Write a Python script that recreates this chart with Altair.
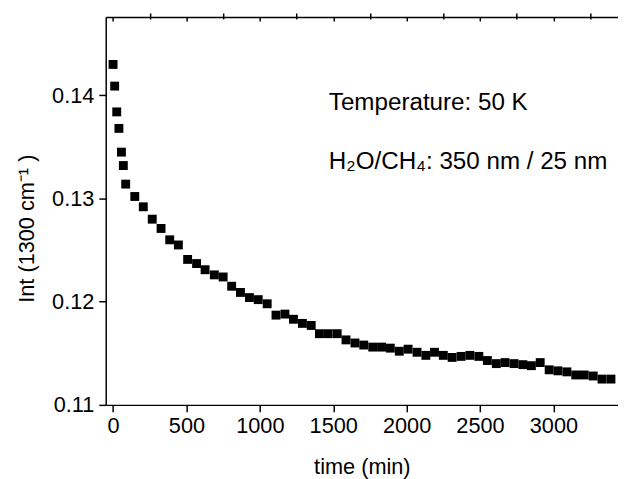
import altair as alt
import pandas as pd

time_min = [0, 11, 25, 40, 57, 70, 86, 148, 206, 267, 327, 386, 445, 508, 569, 627, 690, 750, 808, 868,
            929, 989, 1050, 1110, 1171, 1229, 1290, 1350, 1406, 1466, 1527, 1587, 1648, 1708, 1769, 1829,
            1889, 1950, 2010, 2071, 2131, 2190, 2250, 2310, 2371, 2431, 2492, 2550, 2611, 2671, 2732, 2792,
            2850, 2910, 2971, 3031, 3092, 3152, 3210, 3271, 3331, 3392]
intensity = [0.1430, 0.1409, 0.1384, 0.1368, 0.1345, 0.1332, 0.1314, 0.1302, 0.1292, 0.1280,
             0.1271, 0.1260, 0.1255, 0.1241, 0.1237, 0.1231, 0.1226, 0.1224, 0.1215, 0.1209,
             0.1204, 0.1202, 0.1198, 0.1187, 0.1188, 0.1183, 0.1179, 0.1177, 0.1169, 0.1169,
             0.1169, 0.1163, 0.1160, 0.1158, 0.1156, 0.1156, 0.1155, 0.1152, 0.1154, 0.1151,
             0.1148, 0.1151, 0.1148, 0.1146, 0.1147, 0.1148, 0.1147, 0.1143, 0.1140, 0.1141,
             0.1140, 0.1139, 0.1138, 0.1141, 0.1134, 0.1133, 0.1132, 0.1129, 0.1129, 0.1128,
             0.1125, 0.1125]

x_major = [0, 500, 1000, 1500, 2000, 2500, 3000]
x_minor = [250, 750, 1250, 1750, 2250, 2750, 3250]
y_major = [0.11, 0.12, 0.13, 0.14]
y_minor = [0.115, 0.125, 0.135, 0.145]

notes = ["Temperature: 50 K", "H₂O/CH₄: 350 nm / 25 nm"]
note_x = [1470, 1470]
note_y = [0.13857, 0.13283]

x_domain = [-50, 3440]
y_domain = [0.11, 0.1476]

df = pd.DataFrame({"t": time_min, "v": intensity})
notes_df = pd.DataFrame({"label": notes, "t": note_x, "v": note_y})

FONT = "Liberation Sans"
xs = alt.Scale(domain=x_domain, nice=False, zero=False)
ys = alt.Scale(domain=y_domain, nice=False, zero=False)

common_axis = dict(grid=False, domainColor="black", tickColor="black", domainWidth=1.5,
                   tickWidth=1.5, labelFont=FONT, titleFont=FONT, labelColor="black",
                   titleColor="black", labelFontSize=22, titleFontSize=22, titleFontWeight="normal")

points = alt.Chart(df).mark_point(shape="square", filled=True, size=81, color="black", opacity=1).encode(
    x=alt.X("t:Q", scale=xs, title="time (min)",
            axis=alt.Axis(values=x_major, tickSize=7, labelPadding=4, titlePadding=21,
                          format="d", **common_axis)),
    y=alt.Y("v:Q", scale=ys, title="Int (1300 cm⁻¹ )",
            axis=alt.Axis(values=y_major, tickSize=7, labelPadding=5, titlePadding=13,
                          titleY=214, format=".2f", **common_axis)),
)

minor = alt.Chart(df).mark_point(opacity=0).encode(
    x=alt.X("t:Q", scale=xs, title=None,
            axis=alt.Axis(values=x_minor, tickSize=4, labels=False, domain=False, **common_axis)),
    y=alt.Y("v:Q", scale=ys, title=None,
            axis=alt.Axis(values=y_minor, tickSize=4, labels=False, domain=False, **common_axis)),
)

top_major = alt.Chart(df).mark_point(opacity=0).encode(
    x=alt.X("t:Q", scale=xs, title=None,
            axis=alt.Axis(orient="top", values=x_major, tickSize=alt.ExprRef("-4"), labels=False,
                          **common_axis)),
    y=alt.Y("v:Q", scale=ys, axis=None),
)

top_minor = alt.Chart(df).mark_point(opacity=0).encode(
    x=alt.X("t:Q", scale=xs, title=None,
            axis=alt.Axis(orient="top", values=x_minor, tickSize=alt.ExprRef("-2"), labels=False,
                          domain=False, **common_axis)),
    y=alt.Y("v:Q", scale=ys, axis=None),
)

text = alt.Chart(notes_df).mark_text(align="left", baseline="alphabetic", font=FONT,
                                     fontSize=24.5, color="black").encode(
    x=alt.X("t:Q", scale=xs, axis=None),
    y=alt.Y("v:Q", scale=ys, axis=None),
    text="label:N",
)

chart = alt.layer(points, minor, top_major, top_minor, text).resolve_axis(
    x="independent", y="independent"
).properties(
    width=519, height=393,
    autosize=alt.AutoSizeParams(type="none"),
    padding={"left": 99, "top": 6, "right": 0, "bottom": 72},
).configure_view(stroke=None)

chart.save("out.html", embed_options={"renderer": "svg", "actions": False})
